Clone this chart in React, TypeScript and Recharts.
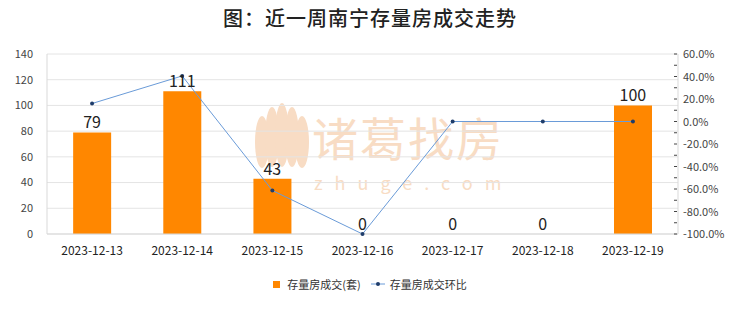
import React from "react";
import {
  ComposedChart,
  Bar,
  Line,
  XAxis,
  YAxis,
  CartesianGrid,
  LabelList,
} from "recharts";

const categories = [
  "2023-12-13",
  "2023-12-14",
  "2023-12-15",
  "2023-12-16",
  "2023-12-17",
  "2023-12-18",
  "2023-12-19",
];
const volumes = [79, 111, 43, 0, 0, 0, 100];
const changes = [16.0, 40.5, -61.3, -100.0, 0.0, 0.0, 0.0];
const leftTicks = [0, 20, 40, 60, 80, 100, 120, 140];
const rightTicks = [-100, -90, -80, -70, -60, -50, -40, -30, -20, -10, 0, 10, 20, 30, 40, 50, 60];

const data = categories.map((c, i) => ({ name: c, volume: volumes[i], change: changes[i] }));

const FONT = '"Noto Sans CJK SC", "Noto Sans", sans-serif';
const BAR_COLOR = "#ff8700";
const LINE_COLOR = "#6a9bd8";
const DOT_COLOR = "#1f3d6b";

const RightTick = (props: any) => {
  const { x, y, payload } = props;
  const v = payload.value as number;
  const major = v % 20 === 0;
  return (
    <g>
      <line x1={x - 4} x2={x - 1} y1={y} y2={y} stroke="#444" strokeWidth={1} />
      {major && (
        <text x={x + 5} y={y} dy={4} fontSize={11} fill="#444" fontFamily={FONT} textAnchor="start">
          {v.toFixed(1) + "%"}
        </text>
      )}
    </g>
  );
};

const LegendContent = () => (
  <div
    style={{
      display: "flex",
      justifyContent: "center",
      alignItems: "center",
      fontFamily: FONT,
      fontSize: 11,
      color: "#333",
      gap: 10,
    }}
  >
    <div style={{ display: "flex", alignItems: "center" }}>
      <span style={{ display: "inline-block", width: 7, height: 7, background: BAR_COLOR, marginRight: 7 }} />
      <span>存量房成交(套)</span>
    </div>
    <div style={{ display: "flex", alignItems: "center" }}>
      <svg width={14} height={8} style={{ marginRight: 5 }}>
        <line x1={0} x2={14} y1={4} y2={4} stroke={LINE_COLOR} strokeWidth={1} />
        <circle cx={7} cy={4} r={2} fill={DOT_COLOR} />
      </svg>
      <span>存量房成交环比</span>
    </div>
  </div>
);

export default function App() {
  return (
    <div style={{ position: "fixed", left: 0, top: 0, width: 740, height: 312, background: "#fff", overflow: "hidden" }}>
      <div
        style={{
          position: "absolute",
          left: 0,
          top: 3,
          width: 740,
          textAlign: "center",
          fontFamily: FONT,
          fontSize: 20,
          fontWeight: 500,
          color: "#222",
          letterSpacing: 1,
        }}
      >
        图：近一周南宁存量房成交走势
      </div>
      {/* watermark */}
      <svg style={{ position: "absolute", left: 0, top: 0 }} width={740} height={312}>
        <g fill="#f8dcc4">
          <ellipse cx={262} cy={142} rx={7} ry={26} />
          <ellipse cx={272} cy={137} rx={7} ry={30} />
          <ellipse cx={282} cy={135} rx={7} ry={32} />
          <ellipse cx={292} cy={137} rx={7} ry={30} />
          <ellipse cx={302} cy={142} rx={7} ry={26} />
        </g>
        <text x={312} y={156} fontSize={46} fill="#f8dcc4" fontFamily={FONT} letterSpacing={2}>
          诸葛找房
        </text>
        <text x={314} y={190} fontSize={18} fill="#f8dcc4" fontFamily={FONT} letterSpacing={12}>
          zhuge.com
        </text>
      </svg>
      <div style={{ position: "absolute", left: 0, top: 0 }}>
        <ComposedChart
          width={740}
          height={312}
          data={data}
          margin={{ top: 54, right: 0, bottom: 46, left: 0 }}
          barCategoryGap="29%"
        >
          <CartesianGrid horizontal vertical={false} stroke="#e4e4e4" yAxisId="left" />
          <XAxis
            dataKey="name"
            tickLine={false}
            axisLine={{ stroke: "#d9d9d9" }}
            tick={{ fontSize: 12, fill: "#222", fontFamily: FONT }}
            tickMargin={6}
            height={32}
            interval={0}
          />
          <YAxis
            yAxisId="left"
            orientation="left"
            width={47}
            domain={[0, 140]}
            ticks={leftTicks}
            tickLine={false}
            axisLine={{ stroke: "#d9d9d9" }}
            tick={{ fontSize: 11, fill: "#444", fontFamily: FONT }}
            tickMargin={8}
            interval={0}
          />
          <YAxis
            yAxisId="right"
            orientation="right"
            width={62}
            domain={[-100, 60]}
            ticks={rightTicks}
            tickLine={false}
            tickSize={0}
            tickMargin={0}
            axisLine={{ stroke: "#d9d9d9" }}
            tick={<RightTick />}
            interval={0}
          />
          <Bar yAxisId="left" dataKey="volume" fill={BAR_COLOR} isAnimationActive={false} />
          <Line
            yAxisId="left"
            dataKey="volume"
            stroke="none"
            dot={false}
            activeDot={false}
            legendType="none"
            isAnimationActive={false}
          >
            <LabelList dataKey="volume" position="top" offset={4} fill="#222" fontSize={16} fontFamily={FONT} />
          </Line>
          <Line
            yAxisId="right"
            dataKey="change"
            stroke={LINE_COLOR}
            strokeWidth={1}
            dot={{ r: 2, fill: DOT_COLOR, stroke: DOT_COLOR, strokeWidth: 0 }}
            activeDot={false}
            isAnimationActive={false}
          />
        </ComposedChart>
      </div>
      <div style={{ position: "absolute", left: 0, top: 276, width: 740 }}>
        <LegendContent />
      </div>
    </div>
  );
}
